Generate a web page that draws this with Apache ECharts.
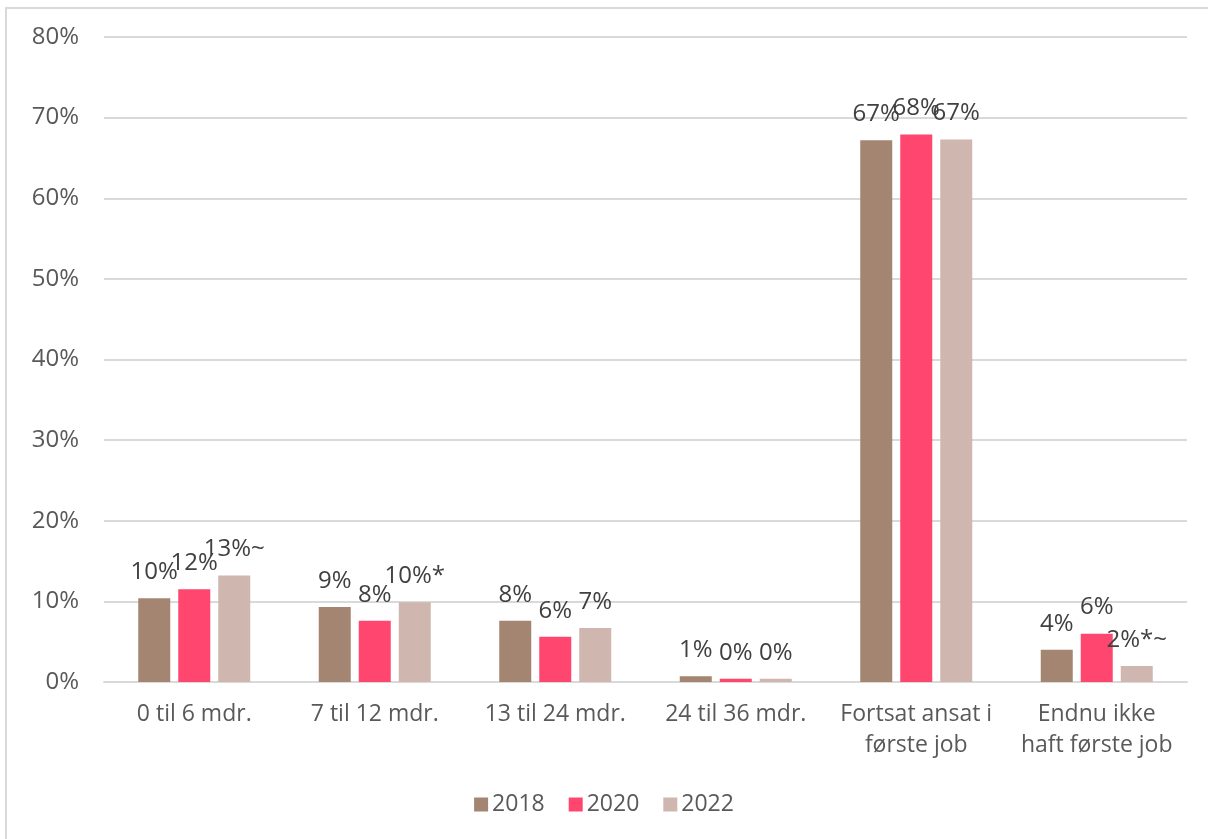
<!DOCTYPE html>
<html>
<head>
<meta charset="utf-8">
<script src="https://cdn.jsdelivr.net/npm/echarts@6/dist/echarts.min.js"></script>
<style>html,body{margin:0;padding:0;background:#fff}#c{width:1208px;height:839px}</style>
</head>
<body>
<div id="c"></div>
<script>
const categories = ['0 til 6 mdr.', '7 til 12 mdr.', '13 til 24 mdr.', '24 til 36 mdr.', 'Fortsat ansat i\nførste job', 'Endnu ikke\nhaft første job'];
const seriesNames = ['2018', '2020', '2022'];
const values2018 = [10.4, 9.3, 7.6, 0.7, 67.2, 4.0];
const values2020 = [11.5, 7.6, 5.6, 0.4, 67.9, 6.0];
const values2022 = [13.2, 9.9, 6.7, 0.4, 67.3, 2.0];
const labels2018 = ['10%', '9%', '8%', '1%', '67%', '4%'];
const labels2020 = ['12%', '8%', '6%', '0%', '68%', '6%'];
const labels2022 = ['13%~', '10%*', '7%', '0%', '67%', '2%*~'];
const yTicks = [0, 10, 20, 30, 40, 50, 60, 70, 80];

const FONT = '"Open Sans", "Noto Sans", sans-serif';
const colors = ['#A38571', '#FF466E', '#CFB6AE'];
const allValues = [values2018, values2020, values2022];
const allLabels = [labels2018, labels2020, labels2022];

const chart = echarts.init(document.getElementById('c'), null, {renderer: 'canvas'});
chart.setOption({
  animation: false,
  color: colors,
  graphic: [{
    type: 'rect', silent: true, z: -1,
    shape: {x: 6, y: 8, width: 1400, height: 1000},
    style: {fill: 'none', stroke: '#d9d9d9', lineWidth: 2}
  }],
  grid: {left: 104, right: 21, top: 37, bottom: 157, containLabel: false},
  legend: {
    top: 788, left: 'center', itemWidth: 14, itemHeight: 14, itemGap: 24,
    icon: 'rect',
    textStyle: {fontFamily: FONT, fontSize: 23, color: '#595959', padding: [0, 0, 0, -1]},
    data: seriesNames
  },
  xAxis: {
    type: 'category', data: categories,
    axisLine: {lineStyle: {color: '#d9d9d9', width: 2}},
    axisTick: {show: false},
    axisLabel: {fontFamily: FONT, fontSize: 23, color: '#595959', margin: 17, lineHeight: 31, interval: 0}
  },
  yAxis: {
    type: 'value', min: 0, max: 80, interval: 10,
    axisLine: {show: false}, axisTick: {show: false},
    splitLine: {lineStyle: {color: '#d9d9d9', width: 2}},
    axisLabel: {fontFamily: FONT, fontSize: 24, color: '#595959', margin: 25,
      formatter: v => yTicks.includes(v) ? v + '%' : ''}
  },
  series: seriesNames.map((name, i) => ({
    name, type: 'bar', barWidth: 32, barGap: '25%',
    data: allValues[i],
    itemStyle: {color: colors[i]},
    label: {
      show: true, position: 'top', distance: 14,
      fontFamily: FONT, fontSize: 24, color: '#404040',
      formatter: p => allLabels[i][p.dataIndex]
    }
  }))
});
</script>
</body>
</html>
